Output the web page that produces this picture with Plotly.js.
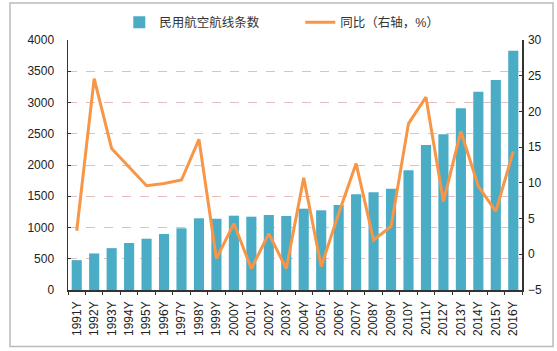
<!DOCTYPE html>
<html>
<head>
<meta charset="utf-8">
<script src="https://cdn.plot.ly/plotly-3.0.1.min.js"></script>
<style>html,body{margin:0;padding:0;background:#fff;}#chart{width:557px;height:351px;}</style>
</head>
<body>
<div id="chart"></div>
<script>
const years = ["1991Y","1992Y","1993Y","1994Y","1995Y","1996Y","1997Y","1998Y","1999Y","2000Y","2001Y","2002Y","2003Y","2004Y","2005Y","2006Y","2007Y","2008Y","2009Y","2010Y","2011Y","2012Y","2013Y","2014Y","2015Y","2016Y"];
const routes = [478, 585, 670, 752, 821, 896, 987, 1147, 1140, 1189, 1173, 1200, 1184, 1301, 1275, 1360, 1531, 1563, 1621, 1915, 2320, 2491, 2907, 3173, 3360, 3829];
const yoy = [3.3, 24.6, 14.8, 12.2, 9.6, 9.9, 10.4, 16.1, -0.6, 4.3, -2.0, 2.9, -2.0, 10.7, -1.7, 5.7, 12.7, 2.0, 3.9, 18.3, 22.0, 7.4, 17.2, 9.5, 6.0, 14.4];
const leftTicks = [0, 500, 1000, 1500, 2000, 2500, 3000, 3500, 4000];
const rightTicks = [-5, 0, 5, 10, 15, 20, 25, 30];
const seriesNames = ["民用航空航线条数", "同比（右轴，%）"];

const font = "Liberation Sans, Arial, sans-serif";
const cjk = "Liberation Sans, Noto Sans CJK SC, sans-serif";

const data = [
  {type: "bar", x: years, y: routes, name: seriesNames[0], marker: {color: "#4BACC6"}, yaxis: "y"},
  {type: "scatter", mode: "lines", x: years, y: yoy, name: seriesNames[1], line: {color: "#F79646", width: 3}, yaxis: "y2"}
];

const layout = {
  width: 557, height: 351,
  margin: {l: 68, r: 35, t: 40, b: 61, pad: 0, autoexpand: false},
  paper_bgcolor: "#fff", plot_bgcolor: "#fff",
  bargap: 0.42,
  showlegend: true,
  legend: {orientation: "h", x: 0.113, y: 1.07, xanchor: "left", yanchor: "middle", font: {family: cjk, size: 12.5, color: "#333"}, bgcolor: "rgba(0,0,0,0)", entrywidth: 136, itemwidth: 30},
  xaxis: {type: "category", showgrid: false, showline: true, linecolor: "#333", linewidth: 1.5,
    ticks: "outside", ticklen: 3, tickcolor: "#333", tickson: "boundaries", tickangle: -90, ticklabelstandoff: 5,
    tickfont: {family: font, size: 12, color: "#222"}, fixedrange: true},
  yaxis: {range: [0, 4000], tickvals: leftTicks, showline: true, linecolor: "#333", linewidth: 1.5,
    ticks: "inside", ticklen: 3, tickcolor: "#333", ticklabelstandoff: 10,
    showgrid: true, gridcolor: "#E6BDBD", griddash: "dash", gridwidth: 1, zeroline: false,
    tickfont: {family: font, size: 12, color: "#222"}},
  yaxis2: {range: [-5, 30], tickvals: rightTicks, overlaying: "y", side: "right", showline: true, linecolor: "#333", linewidth: 1.5,
    ticks: "inside", ticklen: 3, tickcolor: "#333", showgrid: false, zeroline: false, ticklabelstandoff: 2,
    tickfont: {family: font, size: 12, color: "#222"}},
  shapes: [
    {type: "rect", xref: "paper", yref: "paper", x0: -0.1278, x1: 1.0683, y0: -0.226, y1: 1.148, line: {color: "#BBBBBB", width: 1.5}, fillcolor: "rgba(0,0,0,0)", layer: "below"}
  ]
};

Plotly.newPlot("chart", data, layout, {displayModeBar: false, staticPlot: true});
</script>
</body>
</html>
